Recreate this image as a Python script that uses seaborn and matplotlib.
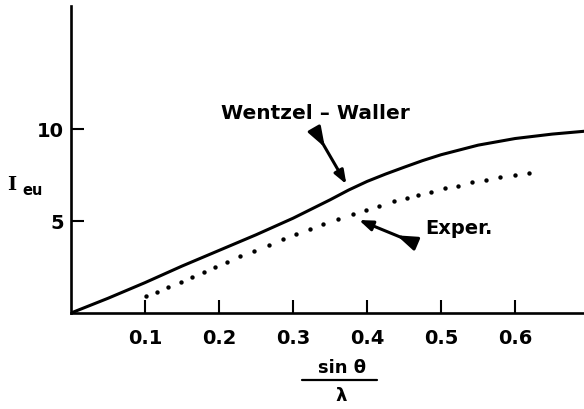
import matplotlib
matplotlib.use("Agg")
import matplotlib.pyplot as plt
import seaborn as sns
from matplotlib.lines import Line2D

# Wentzel-Waller theoretical curve
ww_x = [0.0, 0.05, 0.10, 0.15, 0.20, 0.25, 0.30, 0.325, 0.35, 0.375, 0.40,
        0.425, 0.45, 0.475, 0.50, 0.55, 0.60, 0.65, 0.695]
ww_y = [0.0, 0.80, 1.65, 2.55, 3.40, 4.25, 5.15, 5.65, 6.15, 6.68, 7.15,
        7.55, 7.92, 8.28, 8.60, 9.12, 9.48, 9.72, 9.88]

# experimental points (dotted curve)
exp_x = [0.101, 0.116, 0.131, 0.148, 0.164, 0.179, 0.194, 0.211, 0.228, 0.247, 0.267,
         0.286, 0.304, 0.323, 0.341, 0.361, 0.381, 0.398, 0.416, 0.437, 0.454, 0.469,
         0.486, 0.505, 0.523, 0.542, 0.561, 0.580, 0.600, 0.619]
exp_y = [0.94, 1.16, 1.39, 1.70, 1.97, 2.24, 2.48, 2.79, 3.08, 3.37, 3.71,
         4.02, 4.28, 4.57, 4.82, 5.09, 5.36, 5.58, 5.82, 6.07, 6.23, 6.41,
         6.59, 6.79, 6.92, 7.10, 7.25, 7.38, 7.50, 7.61]

x_ticks = [0.1, 0.2, 0.3, 0.4, 0.5, 0.6]
x_labels = ["0.1", "0.2", "0.3", "0.4", "0.5", "0.6"]
y_ticks = [5, 10]
y_labels = ["5", "10"]

sns.set_style("ticks")
plt.rcParams["font.family"] = ["DejaVu Sans"]
plt.rcParams["font.weight"] = "bold"
plt.rcParams["text.color"] = "black"
plt.rcParams["xtick.color"] = "black"
plt.rcParams["ytick.color"] = "black"

fig = plt.figure(figsize=(5.84, 4.10), dpi=100)
ax = fig.add_axes([71 / 584, 96 / 410, 513 / 584, 307 / 410])

sns.lineplot(x=ww_x, y=ww_y, ax=ax, color="black", linewidth=2.2)
sns.scatterplot(x=exp_x, y=exp_y, ax=ax, color="black", s=10, linewidth=0)

ax.set_xlim(0, 0.693)
ax.set_ylim(0, 16.68)
sns.despine(ax=ax)
for s in ["left", "bottom"]:
    ax.spines[s].set_linewidth(1.9)
    ax.spines[s].set_color("black")

ax.set_xticks(x_ticks)
ax.set_xticklabels(x_labels, fontsize=14, fontweight="bold", color="black")
ax.set_yticks(y_ticks)
ax.set_yticklabels(y_labels, fontsize=14, fontweight="bold", color="black")
ax.tick_params(axis="x", direction="in", length=9.5, width=1.5, pad=11, colors="black")
ax.tick_params(axis="y", direction="in", length=9.5, width=1.5, pad=5, colors="black")
ax.set_xlabel("")
ax.set_ylabel("")

# y-axis label I_eu
fig.text(12 / 584, 1 - 185 / 410, "I", family="DejaVu Serif", fontsize=14,
         fontweight="bold", ha="center", va="center", color="black")
fig.text(33 / 584, 1 - 191 / 410, "eu", fontsize=10.5, fontweight="bold",
         ha="center", va="center", color="black")

# x-axis label: sin θ / λ
fig.text(342 / 584, 1 - 368 / 410, "sin θ", fontsize=13, fontweight="bold",
         ha="center", va="center", color="black")
fig.add_artist(Line2D([302 / 584, 377 / 584], [1 - 381 / 410, 1 - 381 / 410],
                      color="black", linewidth=1.6, transform=fig.transFigure))
fig.text(341 / 584, 1 - 396 / 410, "λ", fontsize=13, fontweight="bold",
         ha="center", va="center", color="black")

# annotations
ax.text(0.33, 10.92, "Wentzel \u2013 Waller", fontsize=14.5, fontweight="bold",
        ha="center", va="center", color="black")
ax.text(0.478, 4.62, "Exper.", fontsize=14, fontweight="bold", ha="left",
        va="center", color="black")

head = "-|>,head_length=0.8,head_width=0.3"
feather = "-|>,head_length=1.2,head_width=0.42"
for tip, tail, mid in [((0.372, 7.0), (0.331, 9.84), (0.343, 9.0)),
                       ((0.389, 5.05), (0.461, 3.86), (0.440, 4.22))]:
    ax.annotate("", xy=tip, xytext=tail,
                arrowprops=dict(arrowstyle=head, color="black", lw=2.2,
                                shrinkA=0, shrinkB=0))
    ax.annotate("", xy=mid, xytext=tail,
                arrowprops=dict(arrowstyle=feather, color="black", lw=2.2,
                                shrinkA=0, shrinkB=0))

fig.savefig("out.png", dpi=100)
